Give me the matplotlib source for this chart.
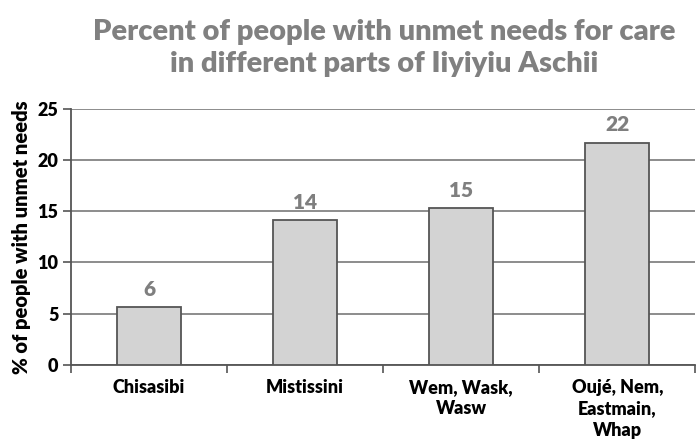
import numpy as np
import matplotlib.pyplot as plt

regions = ['Chisasibi', 'Mistissini', 'Wem, Wask,\nWasw', 'Oujé, Nem,\nEastmain,\nWhap']
unmet_pct = [5.6, 14.1, 15.3, 21.7]
yticks = [0, 5, 10, 15, 20, 25]

plt.rcParams['font.family'] = ['Lato', 'DejaVu Sans']
plt.rcParams['font.weight'] = 'heavy'

fig = plt.figure(figsize=(6.96, 4.46), dpi=100)
ax = fig.add_axes([0.102, 0.182, 0.897, 0.574])

x = np.arange(len(regions))
bars = ax.bar(x, unmet_pct, width=0.41, color='#d3d3d3', edgecolor='#555555',
              linewidth=1.3, zorder=3)

for xi, v in zip(x, unmet_pct):
    ax.annotate(f'{v:.0f}', (xi, v), xytext=(0, 6), textcoords='offset points',
                ha='center', va='bottom', fontsize=15, fontweight='heavy',
                color='#7f7f7f')

ax.set_xlim(-0.5, len(regions) - 0.5)
ax.set_ylim(0, 25)
ax.set_yticks(yticks)
ax.yaxis.grid(True, color='#8c8c8c', linewidth=1.4, zorder=0)
ax.set_axisbelow(True)

ax.set_xticks(x)
ax.set_xticklabels(regions, fontsize=13, fontweight='heavy', linespacing=1.32)
ax.set_xticks(np.arange(len(regions) + 1) - 0.5, minor=True)
ax.tick_params(axis='x', which='major', length=0, pad=10)
ax.tick_params(axis='x', which='minor', length=6, width=1.2, color='#555555',
               direction='out')
ax.tick_params(axis='y', length=6, width=1.2, color='#555555', labelsize=13, pad=3)
for lab in ax.get_yticklabels():
    lab.set_fontweight('heavy')

for side in ['top', 'right']:
    ax.spines[side].set_visible(False)
for side in ['left', 'bottom']:
    ax.spines[side].set_color('#555555')
    ax.spines[side].set_linewidth(1.3)

ax.set_ylabel('% of people with unmet needs', fontsize=14.5, fontweight='heavy',
              labelpad=5)
fig.suptitle('Percent of people with unmet needs for care\nin different parts of Iiyiyiu Aschii',
             x=0.552, y=0.958, fontsize=21, fontweight='heavy', color='#808080',
             linespacing=1.32)

fig.savefig('out.png', dpi=100)
